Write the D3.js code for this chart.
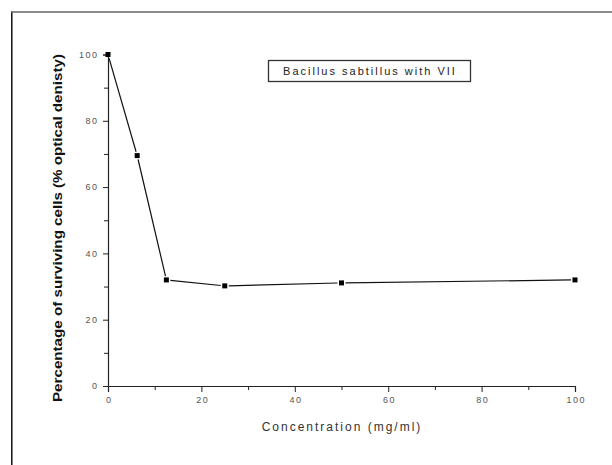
<!DOCTYPE html>
<html><head><meta charset="utf-8">
<script src="https://cdn.jsdelivr.net/npm/d3@7"></script>
<style>
html,body{margin:0;padding:0;background:#fff;}
svg{display:block;font-family:Arial,"Liberation Sans",sans-serif;}
</style></head>
<body>
<svg id="chart" width="612" height="465"></svg>
<script>
const concentration = [0, 6.25, 12.5, 25, 50, 100];
const survival = [100, 69.5, 32, 30.2, 31.1, 32];
const xTicks = [0, 20, 40, 60, 80, 100];
const yTicks = [0, 20, 40, 60, 80, 100];
const xMinor = [10, 30, 50, 70, 90];
const yMinor = [10, 30, 50, 70, 90];
const legendLabel = "Bacillus sabtillus with VII";
const xTitle = "Concentration (mg/ml)";
const yTitle = "Percentage of surviving cells (% optical denisty)";

const svg = d3.select("#chart");
const x = d3.scaleLinear().domain([0, 100]).range([108, 575]);
const y = d3.scaleLinear().domain([0, 100]).range([386, 54.5]);

// outer frame (left + top)
svg.append("line").attr("x1", 11.8).attr("x2", 11.8).attr("y1", 11.5).attr("y2", 465)
  .attr("stroke", "#111").attr("stroke-width", 1.5);
svg.append("line").attr("x1", 11).attr("x2", 612).attr("y1", 12).attr("y2", 12)
  .attr("stroke", "#666").attr("stroke-width", 1.5);

// axes
const xAxis = svg.append("g").attr("transform", `translate(0,${y(0)})`)
  .call(d3.axisBottom(x).tickValues(xTicks).tickSize(6).tickPadding(5).tickFormat(d3.format("d")));
const xAxisMinor = svg.append("g").attr("transform", `translate(0,${y(0)})`)
  .call(d3.axisBottom(x).tickValues(xMinor).tickSize(4).tickFormat(""));
const yAxis = svg.append("g").attr("transform", `translate(${x(0)},0)`)
  .call(d3.axisLeft(y).tickValues(yTicks).tickSize(5).tickPadding(6).tickFormat(d3.format("d")));
const yAxisMinor = svg.append("g").attr("transform", `translate(${x(0)},0)`)
  .call(d3.axisLeft(y).tickValues(yMinor).tickSize(4).tickFormat(""));

[xAxis, xAxisMinor, yAxis, yAxisMinor].forEach(g => {
  g.select(".domain").attr("stroke", "#222").attr("stroke-width", 1.2);
  g.selectAll(".tick line").attr("stroke", "#222").attr("stroke-width", 1);
  g.selectAll(".tick text").attr("font-family", "Arial, 'Liberation Sans', sans-serif")
    .attr("font-size", 9).attr("fill", "#555").attr("letter-spacing", "1.5px");
});
xAxisMinor.select(".domain").remove();
yAxisMinor.select(".domain").remove();
yAxis.selectAll(".tick text").attr("dx", "1.5px");
xAxis.selectAll(".tick text").attr("dx", "0.75px");

// line with gaps near markers
const pts = concentration.map((c, i) => [x(c), y(survival[i])]);
const gap = 4;
const segs = [];
for (let i = 0; i < pts.length - 1; i++) {
  const [x1, y1] = pts[i], [x2, y2] = pts[i + 1];
  const dx = x2 - x1, dy = y2 - y1, L = Math.hypot(dx, dy);
  const ux = dx / L, uy = dy / L;
  segs.push([x1 + ux * gap, y1 + uy * gap, x2 - ux * gap, y2 - uy * gap]);
}
svg.append("g").selectAll("line").data(segs).join("line")
  .attr("x1", d => d[0]).attr("y1", d => d[1]).attr("x2", d => d[2]).attr("y2", d => d[3])
  .attr("stroke", "#111").attr("stroke-width", 1.2);

// markers
svg.append("g").selectAll("rect").data(concentration).join("rect")
  .attr("x", (d, i) => x(d) - 2.5).attr("y", (d, i) => y(survival[i]) - 2.5)
  .attr("width", 5).attr("height", 5).attr("fill", "#000");

// legend box
svg.append("rect").attr("x", 268.5).attr("y", 60.5).attr("width", 202).attr("height", 21)
  .attr("fill", "#fff").attr("stroke", "#333").attr("stroke-width", 1.3);
svg.append("text").attr("x", 370).attr("y", 74.5).attr("text-anchor", "middle")
  .attr("font-size", 11).attr("letter-spacing", "2px").attr("fill", "#222")
  .text(legendLabel);

// axis titles
svg.append("text").attr("x", 342).attr("y", 431).attr("text-anchor", "middle")
  .attr("font-size", 12).attr("letter-spacing", "2px").attr("fill", "#333")
  .text(xTitle);
svg.append("text").attr("transform", "translate(62,228) rotate(-90)")
  .attr("text-anchor", "middle").attr("font-size", 13).attr("font-weight", "bold")
  .attr("fill", "#111").attr("textLength", 348).attr("lengthAdjust", "spacingAndGlyphs")
  .text(yTitle);
</script>
</body></html>
